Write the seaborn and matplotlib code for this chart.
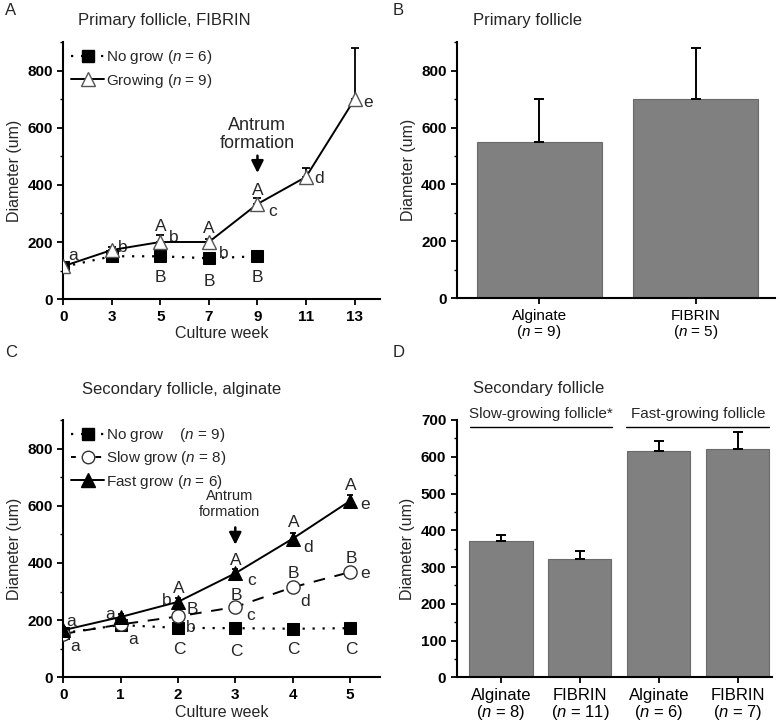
import numpy as np
import pandas as pd
import matplotlib
matplotlib.use("Agg")
import matplotlib.pyplot as plt
import seaborn as sns
from matplotlib.ticker import MultipleLocator
from matplotlib.lines import Line2D

sns.set_theme(style="ticks")
plt.rcParams['font.family'] = ['Liberation Sans', 'DejaVu Sans']
plt.rcParams['mathtext.fontset'] = 'custom'
plt.rcParams['mathtext.it'] = 'Liberation Sans:italic'
plt.rcParams['mathtext.rm'] = 'Liberation Sans'

# ---------------- data ----------------
# Panel A: primary follicle, FIBRIN (categorical week axis)
weeks_a = [0, 3, 5, 7, 9, 11, 13]
nogrow_a_weeks = [0, 3, 5, 7, 9]
nogrow_a = [113, 150, 150, 143, 150]
nogrow_a_err = [8, 6, 6, 6, 6]
growing_a = [115, 172, 200, 200, 333, 428, 700]
growing_a_err = [10, 10, 25, 12, 22, 32, 180]

# Panel B
cats_b = ["Alginate\n($n$ = 9)", "FIBRIN\n($n$ = 5)"]
vals_b = [548, 700]
err_b = [152, 180]

# Panel C: secondary follicle, alginate
weeks_c = [0, 1, 2, 3, 4, 5]
nogrow_c = [155, 183, 173, 172, 170, 172]
nogrow_c_err = [5, 5, 5, 5, 5, 5]
slow_c = [152, 185, 213, 246, 315, 368]
slow_c_err = [8, 10, 12, 14, 16, 18]
fast_c = [165, 211, 264, 364, 485, 617]
fast_c_err = [10, 12, 14, 16, 20, 22]

# Panel D
cats_d = ["Alginate\n($n$ = 8)", "FIBRIN\n($n$ = 11)", "Alginate\n($n$ = 6)", "FIBRIN\n($n$ = 7)"]
vals_d = [370, 323, 615, 622]
err_d = [18, 22, 27, 46]
groups_d = ["Slow-growing follicle*", "Fast-growing follicle"]

# ---------------- figure ----------------
fig = plt.figure(figsize=(7.8, 7.26), dpi=100)
axA = fig.add_axes([0.081, 0.588, 0.406, 0.354])
axB = fig.add_axes([0.586, 0.589, 0.408, 0.353])
axC = fig.add_axes([0.081, 0.067, 0.406, 0.3545])
axD = fig.add_axes([0.5855, 0.067, 0.404, 0.3545])

TICKFS = 11
LBLFS = 11.5
LETFS = 12.5


def style_axis(ax):
    for s in ['top', 'right']:
        ax.spines[s].set_visible(False)
    for s in ['left', 'bottom']:
        ax.spines[s].set_linewidth(1.5)
        ax.spines[s].set_color('black')
    ax.tick_params(which='major', direction='out', length=4, width=1.3, colors='black')
    ax.tick_params(which='minor', direction='out', length=2.5, width=1.0, colors='black')
    ax.grid(False)


def bold_yticks(ax, top, step, minor):
    vals = list(range(0, top + 1, step))
    ax.set_yticks(vals, labels=[str(v) for v in vals], fontweight='bold', fontsize=TICKFS)
    ax.yaxis.set_minor_locator(MultipleLocator(minor))


# ---- Panel A ----
pos_a = list(range(len(weeks_a)))
pos_ng = [weeks_a.index(w) for w in nogrow_a_weeks]
dfA1 = pd.DataFrame({'x': pos_ng, 'y': nogrow_a})
dfA2 = pd.DataFrame({'x': pos_a, 'y': growing_a})
axA.errorbar(pos_a, growing_a, yerr=[np.zeros(len(growing_a)), growing_a_err], fmt='none',
             ecolor='black', elinewidth=1.3, capsize=3, capthick=1.3, zorder=2)
axA.errorbar(pos_ng, nogrow_a, yerr=[np.zeros(len(nogrow_a)), nogrow_a_err], fmt='none',
             ecolor='black', elinewidth=1.3, capsize=3, capthick=1.3, zorder=2)
sns.lineplot(data=dfA1, x='x', y='y', ax=axA, color='black', linestyle=(0, (1, 3.5)), lw=1.6,
             marker='s', markersize=8.5, markerfacecolor='black', markeredgecolor='black', zorder=3)
sns.lineplot(data=dfA2, x='x', y='y', ax=axA, color='black', linestyle='-', lw=1.4,
             marker='^', markersize=9.5, markerfacecolor='white', markeredgecolor='#555555',
             markeredgewidth=1.0, zorder=4)
axA.set_xlim(0, 6.52)
axA.set_ylim(0, 900)
axA.set_xticks(pos_a, labels=[str(w) for w in weeks_a], fontweight='bold', fontsize=TICKFS)
bold_yticks(axA, 800, 200, 100)
axA.set_xlabel('Culture week', fontsize=LBLFS, labelpad=2)
axA.set_ylabel('Diameter (um)', fontsize=LBLFS, labelpad=4)
style_axis(axA)
lettersA = [(0.2, 154, 'a'), (1.22, 180, 'b'), (2.0, 253, 'A'), (2.27, 217, 'b'),
            (3.0, 248, 'A'), (3.31, 160, 'b'), (4.0, 381, 'A'), (4.31, 306, 'c'),
            (5.27, 423, 'd'), (6.27, 690, 'e'), (2.0, 76, 'B'), (3.0, 62, 'B'), (4.0, 76, 'B')]
for x, y, s in lettersA:
    axA.text(x, y, s, ha='center', va='center', fontsize=LETFS)
axA.text(4.0, 577, 'Antrum\nformation', ha='center', va='center', fontsize=13, linespacing=1.1)
axA.annotate('', xy=(4.0, 432), xytext=(4.0, 512),
             arrowprops=dict(arrowstyle='-|>,head_length=0.6,head_width=0.3', color='black', lw=1.8))
handlesA = [Line2D([], [], color='black', linestyle=(0, (1, 3.5)), lw=1.6, marker='s', markersize=8.5,
                   markerfacecolor='black', markeredgecolor='black'),
            Line2D([], [], color='black', linestyle='-', lw=1.4, marker='^', markersize=10,
                   markerfacecolor='white', markeredgecolor='#555555')]
axA.legend(handlesA, ['No grow ($n$ = 6)', 'Growing ($n$ = 9)'], loc='upper left', frameon=False,
           fontsize=11, handlelength=2.2, handletextpad=0.1, borderaxespad=0.0,
           bbox_to_anchor=(0.005, 1.0), labelspacing=0.35)

# ---- Panel B ----
dfB = pd.DataFrame({'cat': cats_b, 'val': vals_b})
sns.barplot(data=dfB, x='cat', y='val', ax=axB, color='#808080', saturation=1, width=0.8,
            errorbar=None, edgecolor='#6a6a6a', linewidth=0.8)
axB.errorbar(range(len(vals_b)), vals_b, yerr=[np.zeros(len(vals_b)), err_b], fmt='none',
             ecolor='black', elinewidth=1.4, capsize=3.5, capthick=1.4, zorder=3)
axB.set_xlim(-0.525, 1.51)
axB.set_ylim(0, 900)
bold_yticks(axB, 800, 200, 100)
axB.set_xlabel('')
axB.set_ylabel('Diameter (um)', fontsize=LBLFS, labelpad=4)
style_axis(axB)
axB.tick_params(axis='x', labelsize=11)
for t in axB.get_xticklabels():
    t.set_linespacing(1.0)

# ---- Panel C ----
dfC1 = pd.DataFrame({'x': weeks_c, 'y': nogrow_c})
dfC2 = pd.DataFrame({'x': weeks_c, 'y': slow_c})
dfC3 = pd.DataFrame({'x': weeks_c, 'y': fast_c})
for ys, es in [(nogrow_c, nogrow_c_err), (slow_c, slow_c_err), (fast_c, fast_c_err)]:
    axC.errorbar(weeks_c, ys, yerr=[np.zeros(len(ys)), es], fmt='none', ecolor='black',
                 elinewidth=1.3, capsize=2.5, capthick=1.3, zorder=2)
sns.lineplot(data=dfC1, x='x', y='y', ax=axC, color='black', linestyle=(0, (1, 3.5)), lw=1.6,
             marker='s', markersize=8.5, markerfacecolor='black', markeredgecolor='black', zorder=3)
sns.lineplot(data=dfC2, x='x', y='y', ax=axC, color='black', linestyle=(0, (6, 5)), lw=1.4,
             marker='o', markersize=9.5, markerfacecolor='white', markeredgecolor='#333333',
             markeredgewidth=1.0, zorder=4)
sns.lineplot(data=dfC3, x='x', y='y', ax=axC, color='black', linestyle='-', lw=1.4,
             marker='^', markersize=10, markerfacecolor='black', markeredgecolor='black', zorder=5)
axC.set_xlim(0, 5.52)
axC.set_ylim(0, 900)
axC.set_xticks(weeks_c, labels=[str(w) for w in weeks_c], fontweight='bold', fontsize=TICKFS)
bold_yticks(axC, 800, 200, 100)
axC.set_xlabel('Culture week', fontsize=LBLFS, labelpad=2)
axC.set_ylabel('Diameter (um)', fontsize=LBLFS, labelpad=4)
style_axis(axC)
lettersC = [(0.13, 194, 'a'), (0.21, 109, 'a'), (0.82, 221, 'a'), (1.22, 133, 'a'),
            (1.81, 268, 'b'), (2.02, 311, 'A'), (2.26, 237, 'B'), (2.22, 175, 'b'),
            (3.01, 410, 'A'), (3.29, 337, 'c'), (3.02, 287, 'B'), (3.26, 218, 'c'),
            (4.02, 540, 'A'), (4.27, 454, 'd'), (4.02, 363, 'B'), (4.22, 264, 'd'),
            (5.01, 672, 'A'), (5.26, 605, 'e'), (5.02, 415, 'B'), (5.26, 363, 'e'),
            (2.02, 98, 'C'), (3.02, 89, 'C'), (4.02, 98, 'C'), (5.02, 98, 'C')]
for x, y, s in lettersC:
    axC.text(x, y, s, ha='center', va='center', fontsize=LETFS)
axC.text(2.9, 606, 'Antrum\nformation', ha='center', va='center', fontsize=10.5, linespacing=1.15)
axC.annotate('', xy=(3.0, 454), xytext=(3.0, 534),
             arrowprops=dict(arrowstyle='-|>,head_length=0.6,head_width=0.3', color='black', lw=1.8))
handlesC = [Line2D([], [], color='black', linestyle=(0, (1, 3.5)), lw=1.6, marker='s', markersize=8.5,
                   markerfacecolor='black', markeredgecolor='black'),
            Line2D([], [], color='black', linestyle=(0.5, (3, 3.5)), lw=1.4, marker='o', markersize=9,
                   markerfacecolor='white', markeredgecolor='#333333'),
            Line2D([], [], color='black', linestyle='-', lw=1.4, marker='^', markersize=10,
                   markerfacecolor='black', markeredgecolor='black')]
axC.legend(handlesC, ['No grow    ($n$ = 9)', 'Slow grow ($n$ = 8)', 'Fast grow ($n$ = 6)'],
           loc='upper left', frameon=False, fontsize=11, handlelength=2.2, handletextpad=0.1,
           borderaxespad=0.0, bbox_to_anchor=(0.005, 1.0), labelspacing=0.35)

# ---- Panel D ----
dfD = pd.DataFrame({'cat': cats_d, 'val': vals_d})
sns.barplot(data=dfD, x='cat', y='val', ax=axD, color='#808080', saturation=1, width=0.8,
            errorbar=None, edgecolor='#6a6a6a', linewidth=0.8)
axD.errorbar(range(len(vals_d)), vals_d, yerr=[np.zeros(len(vals_d)), err_d], fmt='none',
             ecolor='black', elinewidth=1.4, capsize=3.5, capthick=1.4, zorder=3)
axD.set_xlim(-0.56, 3.43)
axD.set_ylim(0, 700)
bold_yticks(axD, 700, 100, 50)
axD.set_xlabel('')
axD.set_ylabel('Diameter (um)', fontsize=LBLFS, labelpad=4)
style_axis(axD)
axD.tick_params(axis='x', labelsize=12)
for t in axD.get_xticklabels():
    t.set_linespacing(1.0)
for (x0, x1), g in zip([(-0.39, 1.41), (1.59, 3.4)], groups_d):
    axD.plot([x0, x1], [682, 682], color='black', lw=1.0, clip_on=False)
    axD.text((x0 + x1) / 2, 698, g, ha='center', va='bottom', fontsize=11, clip_on=False)

# ---- titles and panel labels ----
fig.text(0.10, 0.972, 'Primary follicle, FIBRIN', fontsize=12, ha='left', va='center')
fig.text(0.606, 0.972, 'Primary follicle', fontsize=12, ha='left', va='center')
fig.text(0.105, 0.463, 'Secondary follicle, alginate', fontsize=12, ha='left', va='center')
fig.text(0.606, 0.465, 'Secondary follicle', fontsize=12, ha='left', va='center')
for x, y, s in [(0.006, 0.985, 'A'), (0.503, 0.985, 'B'), (0.006, 0.515, 'C'), (0.503, 0.515, 'D')]:
    fig.text(x, y, s, fontsize=12, ha='left', va='center')

fig.savefig('out.png', dpi=100, facecolor='white')
